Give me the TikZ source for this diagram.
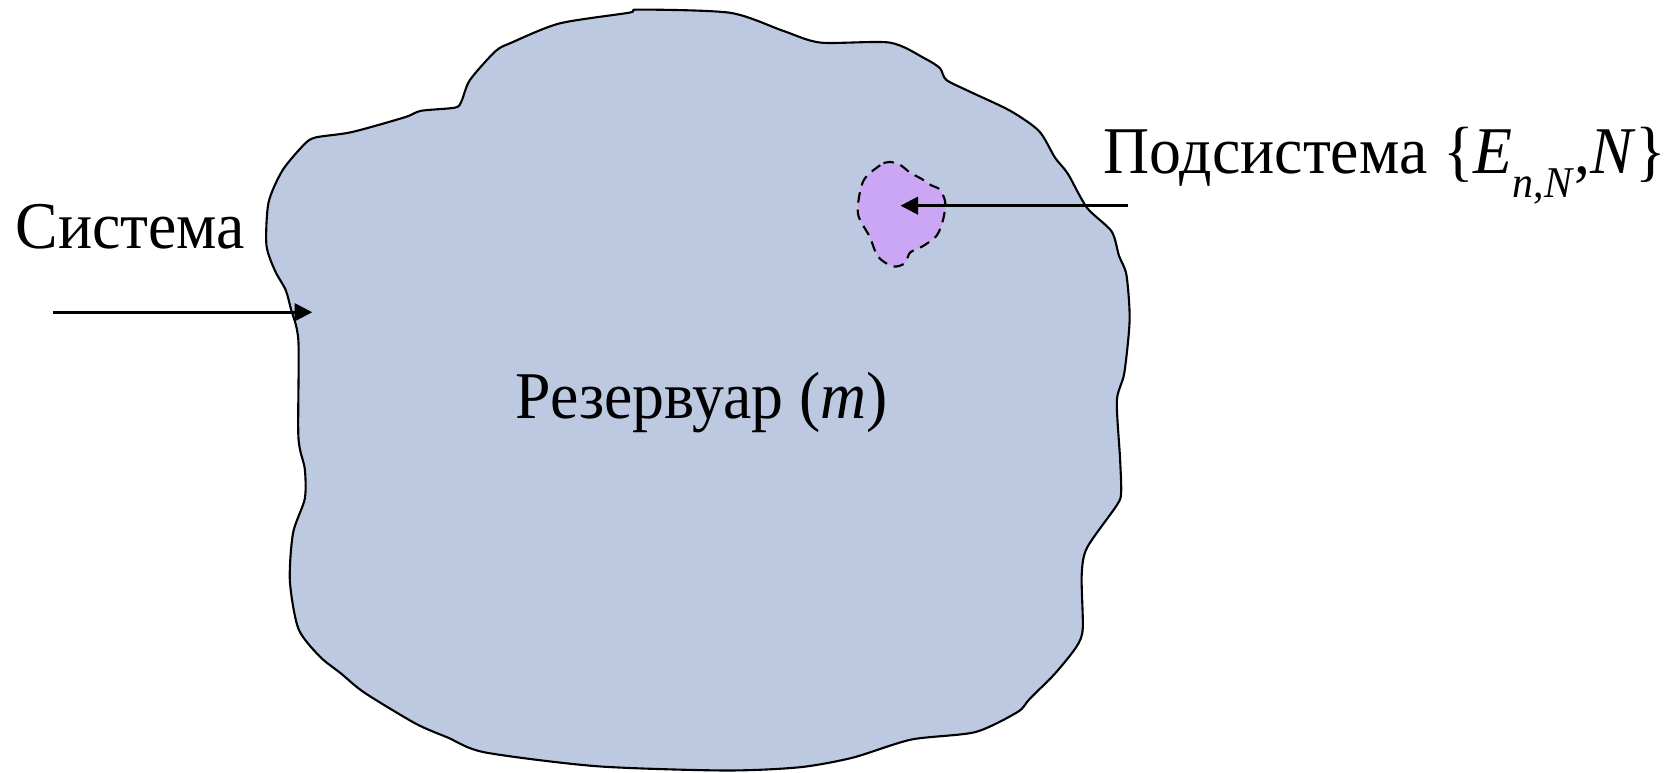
\documentclass[tikz,border=0pt]{standalone}
\usepackage{fontspec}
\setmainfont{Liberation Serif}[FakeStretch=0.955]
\usetikzlibrary{arrows.meta}
\definecolor{resfill}{RGB}{189,201,225}
\definecolor{subfill}{RGB}{203,166,245}
\tikzset{
  lbl/.style={inner sep=0pt, font=\fontsize{19}{22}\selectfont},
  conn/.style={line width=0.75pt, -{Triangle[length=5pt,width=5pt]}},
}
\begin{document}
\begin{tikzpicture}[x=0.10657mm,y=-0.10657mm]
\useasboundingbox (0,0) rectangle (1568,725);
% reservoir outline
\draw[fill=resfill, line width=0.6pt] plot[smooth cycle, tension=0.45] coordinates {
 (600,9) (685,12) (735,29) (770,40) (835,40) (868,55) (882,64) (888,75) (910,86) (948,104)
 (975,123) (990,148) (1002,163) (1020,195) (1043,217) (1050,240) (1057,258) (1060,300)
 (1055,350) (1048,376) (1051,430) (1052,462) (1048,474) (1020,514) (1015,540) (1016,590)
 (1010,607) (990,632) (966,656) (955,668) (915,687) (855,694) (800,711) (750,720)
 (680,723) (560,719) (455,706) (420,692) (390,679) (342,650) (320,632) (300,616)
 (280,590) (272,545) (275,500) (286,468) (286,440) (280,410) (280,320) (273,290)
 (268,272) (258,254) (250,230) (252,190) (265,160) (285,136) (296,129) (330,124)
 (380,110) (395,104) (427,101) (433,95) (441,75) (465,48) (480,40) (525,22) (590,12)
};
% subsystem
\draw[fill=subfill, line width=0.6pt, dashed, dash pattern=on 3pt off 2pt] plot[smooth cycle, tension=0.5] coordinates {
 (835,152) (826,155) (810,170) (805,200) (816,222) (824,241) (838,250) (849,247)
 (854,237) (866,231) (879,221) (885,206) (887,190) (882,178) (874,174) (865,168)
 (854,162) (845,155)
};
\node[lbl, anchor=base west] (sys) at (14,233) {Система};
\node[lbl, anchor=base west] (sub) at (1035,163) {Подсистема \{\textit{E}\raisebox{-0.36em}{\fontsize{12.5}{15}\selectfont\textit{n},\textit{N}},\textit{N}\}};
\node[lbl, anchor=base west] (res) at (483,393) {Резервуар (\textit{m})};
\coordinate (a1) at (50,293);
\coordinate (a1t) at (293,293);
\coordinate (a2) at (1058,193);
\coordinate (a2t) at (845,193);
\draw[conn] (a1) -- (a1t);
\draw[conn] (a2) -- (a2t);
\end{tikzpicture}
\end{document}
